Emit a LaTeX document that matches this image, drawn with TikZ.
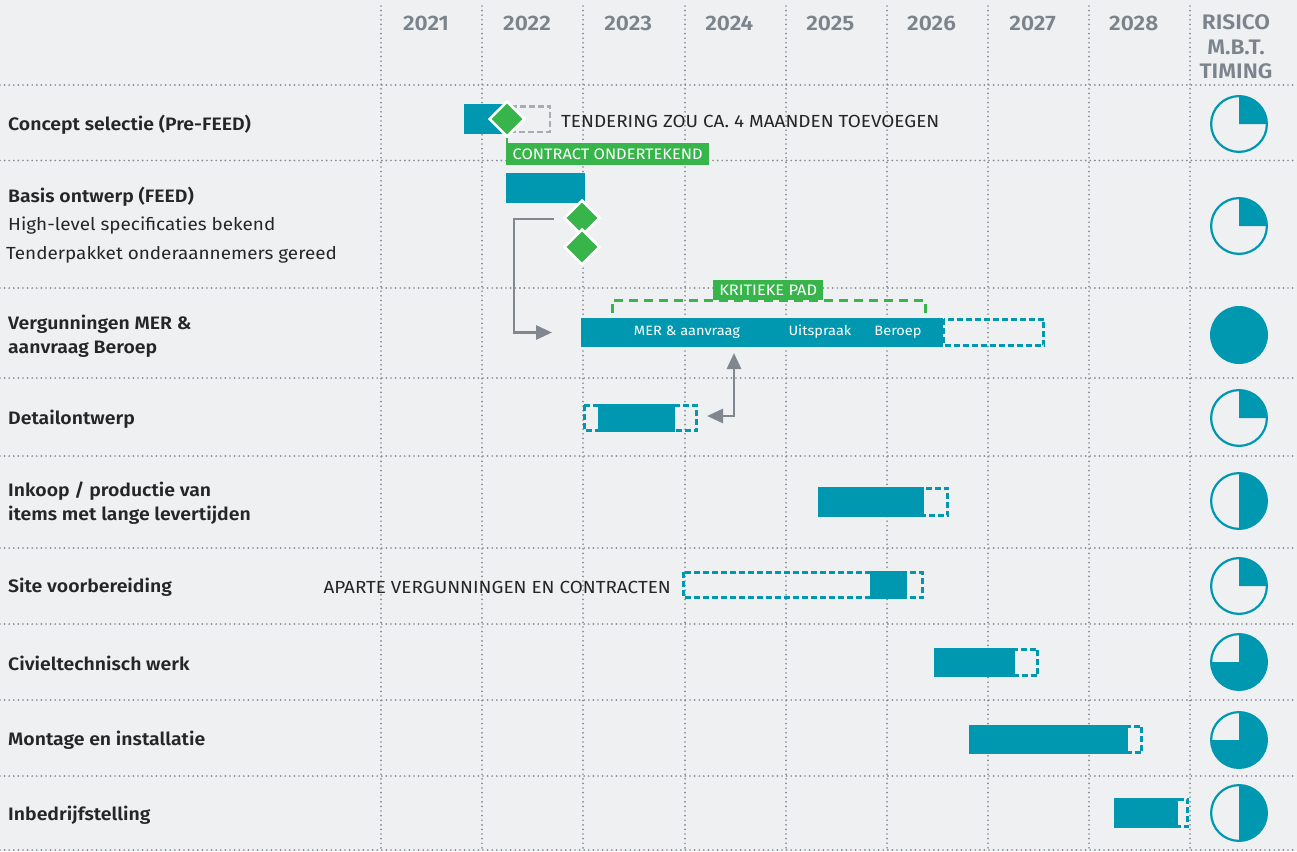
\documentclass[tikz,border=0pt]{standalone}
\usepackage{fontspec}
\setmainfont{Fira Sans}[FakeStretch=1.08, BoldFont={Fira Sans SemiBold}, BoldFeatures={FakeStretch=1.08}]
\usetikzlibrary{shapes.geometric,arrows.meta,calc}
\definecolor{bg}{HTML}{EEF0F2}
\definecolor{teal}{HTML}{0098B0}
\definecolor{grn}{HTML}{38B54A}
\definecolor{gridc}{HTML}{838A93}
\definecolor{hdr}{HTML}{7B838C}
\definecolor{lbl}{HTML}{262626}
\definecolor{arr}{HTML}{80878F}
\definecolor{lgray}{HTML}{A8ADB3}
\begin{document}
\begin{tikzpicture}[x=1pt,y=-1pt,
  griddot/.style={draw=gridc, line width=1.9pt, line cap=round, dash pattern=on 0pt off 4.6pt},
  bar/.style={fill=teal, draw=none, inner sep=0pt, outer sep=0pt, anchor=north west},
  dbox/.style={draw=teal, line width=2.6pt, dash pattern=on 6pt off 3pt},
  ms/.style={diamond, fill=grn, draw=white, line width=2.5pt, minimum width=36pt, minimum height=36pt, inner sep=0pt},
  glabel/.style={fill=grn, text=white, inner sep=0pt, font=\fontsize{15.2}{15.2}\selectfont, anchor=north west},
  yr/.style={text=hdr, font=\bfseries\fontsize{21}{21}\selectfont, inner sep=0pt},
  rowb/.style={text=lbl, font=\bfseries\fontsize{18}{24}\selectfont, inner sep=0pt, anchor=west, align=left},
  rowr/.style={text=lbl, font=\fontsize{17.5}{24}\selectfont, inner sep=0pt, anchor=west, align=left},
  note/.style={text=lbl, font=\fontsize{17.5}{17.5}\selectfont, inner sep=0pt},
  intext/.style={text=white, font=\fontsize{13.5}{13.5}\selectfont, inner sep=0pt},
  garrow/.style={draw=arr, line width=2.8pt, arrows={-Triangle[length=16pt,width=14pt]}},
  pring/.style={draw=teal, line width=2.2pt}
]
\fill[bg] (0,0) rectangle (1297,851);
\useasboundingbox (0,0) rectangle (1297,851);

% grid
\foreach \yy in {85,160.5,288,378,456,548,624,700,776,850}
  \draw[griddot] (0,\yy) -- (1297,\yy);
\foreach \xx in {381,482,583,685,786,887,988,1089,1190}
  \draw[griddot] (\xx,6) -- (\xx,851);

% header
\foreach \yt [count=\i from 0] in {2021,2022,2023,2024,2025,2026,2027,2028}
  \node[yr] (y\yt) at (426+101.1*\i,23) {\yt};
\node[yr, align=center, font=\bfseries\fontsize{21}{24.5}\selectfont] (risk) at (1236,47) {RISICO\\M.B.T.\\TIMING};

% row labels
\node[rowb] (l1) at (8,125) {Concept selectie (Pre-FEED)};
\node[rowb] (l2) at (8,197) {Basis ontwerp (FEED)};
\node[rowr] (l2b) at (8,226) {High-level specificaties bekend};
\node[rowr] (l2c) at (6,255) {Tenderpakket onderaannemers gereed};
\node[rowb] (l3) at (8,336) {Vergunningen MER \&\\aanvraag Beroep};
\node[rowb] (l4) at (8,419) {Detailontwerp};
\node[rowb] (l5) at (8,503) {Inkoop / productie van\\items met lange levertijden};
\node[rowb] (l6) at (8,587) {Site voorbereiding};
\node[rowb] (l7) at (8,663) {Civieltechnisch werk};
\node[rowb] (l8) at (8,740) {Montage en installatie};
\node[rowb] (l9) at (8,815) {Inbedrijfstelling};

% row 1: concept
\draw[draw=lgray, line width=2.5pt, dash pattern=on 6pt off 3pt] (508,106.25) rectangle (549.75,131.75);
\node[bar, minimum width=43pt, minimum height=30pt] (b1) at (464,104) {};
\node[ms] (m1) at (507,119) {};
\node[note, anchor=west] (n1) at (561,121) {TENDERING ZOU CA. 4 MAANDEN TOEVOEGEN};
\node[glabel, minimum width=203pt, minimum height=22pt] (ct) at (506,143) {CONTRACT ONDERTEKEND};
\draw[grn, line width=2pt] (m1.south) -- (m1.south |- ct.north);

% row 2: basis
\node[bar, minimum width=79pt, minimum height=30pt] (b2) at (506,173) {};
\node[ms] (m2) at (582,218) {};
\node[ms] (m3) at (582,247) {};

% row 3: vergunningen
\draw[dbox] (944,319.25) rectangle (1043.75,345.75);
\node[bar, minimum width=362pt, minimum height=29pt] (mer) at (581,318) {};
\node[intext] (t1) at (687,332) {MER \& aanvraag};
\node[intext] (t2) at (820,332) {Uitspraak};
\node[intext] (t3) at (898,332) {Beroep};
\draw[grn, line width=3pt, dash pattern=on 9pt off 6pt] (612,313) -- (612,300) -- (925,300) -- (925,313);
\node[glabel, minimum width=110pt, minimum height=20pt] (kp) at (713,280) {KRITIEKE PAD};

% row 4: detail
\draw[dbox] (584.25,405.25) rectangle (696.75,430.75);
\node[bar, minimum width=77pt, minimum height=28pt] (b4) at (598,404) {};

% row 5: inkoop
\draw[dbox] (920,488.25) rectangle (947.75,515.75);
\node[bar, minimum width=106pt, minimum height=30pt] (b5) at (818,487) {};

% row 6: site
\node[note, anchor=east] (n2) at (671,587) {APARTE VERGUNNINGEN EN CONTRACTEN};
\draw[dbox] (683.25,572.25) rectangle (922.75,597.75);
\node[bar, minimum width=37pt, minimum height=28pt] (b6) at (870,571) {};

% row 7: civiel
\draw[dbox] (1012,649.25) rectangle (1037.75,675.75);
\node[bar, minimum width=81pt, minimum height=29pt] (b7) at (934,648) {};

% row 8: montage
\draw[dbox] (1125,726.25) rectangle (1141.75,752.75);
\node[bar, minimum width=159pt, minimum height=29pt] (b8) at (969,725) {};

% row 9: inbedrijf
\draw[dbox] (1175,799.25) rectangle (1187.75,826.75);
\node[bar, minimum width=64pt, minimum height=30pt] (b9) at (1114,798) {};

% arrows
\coordinate (a1s) at (554,219);
\coordinate (a1c) at (514,219);
\draw[garrow, shorten >=29pt] (a1s) -- (a1c) |- (mer.west);
\coordinate (a2s) at (707,416);
\coordinate (a2c) at (734,416);
\draw[garrow, arrows={Triangle[length=16pt,width=14pt]-Triangle[length=16pt,width=14pt]}, shorten >=6pt] (a2s) -- (a2c) -- (a2c |- mer.south);

% risk pies
\begin{scope}[shift={(1239,124)}, yscale=-1]
  \fill[teal] (0,0) -- (0,28) arc[start angle=90, end angle=0, radius=28] -- cycle;
  \draw[pring] (0,0) circle[radius=27.9];
\end{scope}
\begin{scope}[shift={(1239,226)}, yscale=-1]
  \fill[teal] (0,0) -- (0,28) arc[start angle=90, end angle=0, radius=28] -- cycle;
  \draw[pring] (0,0) circle[radius=27.9];
\end{scope}
\begin{scope}[shift={(1239,335)}, yscale=-1]
  \fill[teal] (0,0) circle[radius=29];
\end{scope}
\begin{scope}[shift={(1239,418)}, yscale=-1]
  \fill[teal] (0,0) -- (0,28) arc[start angle=90, end angle=0, radius=28] -- cycle;
  \draw[pring] (0,0) circle[radius=27.9];
\end{scope}
\begin{scope}[shift={(1239,501)}, yscale=-1]
  \fill[teal] (0,0) -- (0,28) arc[start angle=90, end angle=-90, radius=28] -- cycle;
  \draw[pring] (0,0) circle[radius=27.9];
\end{scope}
\begin{scope}[shift={(1239,586)}, yscale=-1]
  \fill[teal] (0,0) -- (0,28) arc[start angle=90, end angle=0, radius=28] -- cycle;
  \draw[pring] (0,0) circle[radius=27.9];
\end{scope}
\begin{scope}[shift={(1239,662)}, yscale=-1]
  \fill[teal] (0,0) -- (0,28) arc[start angle=90, end angle=-180, radius=28] -- cycle;
  \draw[pring] (0,0) circle[radius=27.9];
\end{scope}
\begin{scope}[shift={(1239,740)}, yscale=-1]
  \fill[teal] (0,0) -- (0,28) arc[start angle=90, end angle=-180, radius=28] -- cycle;
  \draw[pring] (0,0) circle[radius=27.9];
\end{scope}
\begin{scope}[shift={(1239,813)}, yscale=-1]
  \fill[teal] (0,0) -- (0,28) arc[start angle=90, end angle=-90, radius=28] -- cycle;
  \draw[pring] (0,0) circle[radius=27.9];
\end{scope}
\end{tikzpicture}
\end{document}
